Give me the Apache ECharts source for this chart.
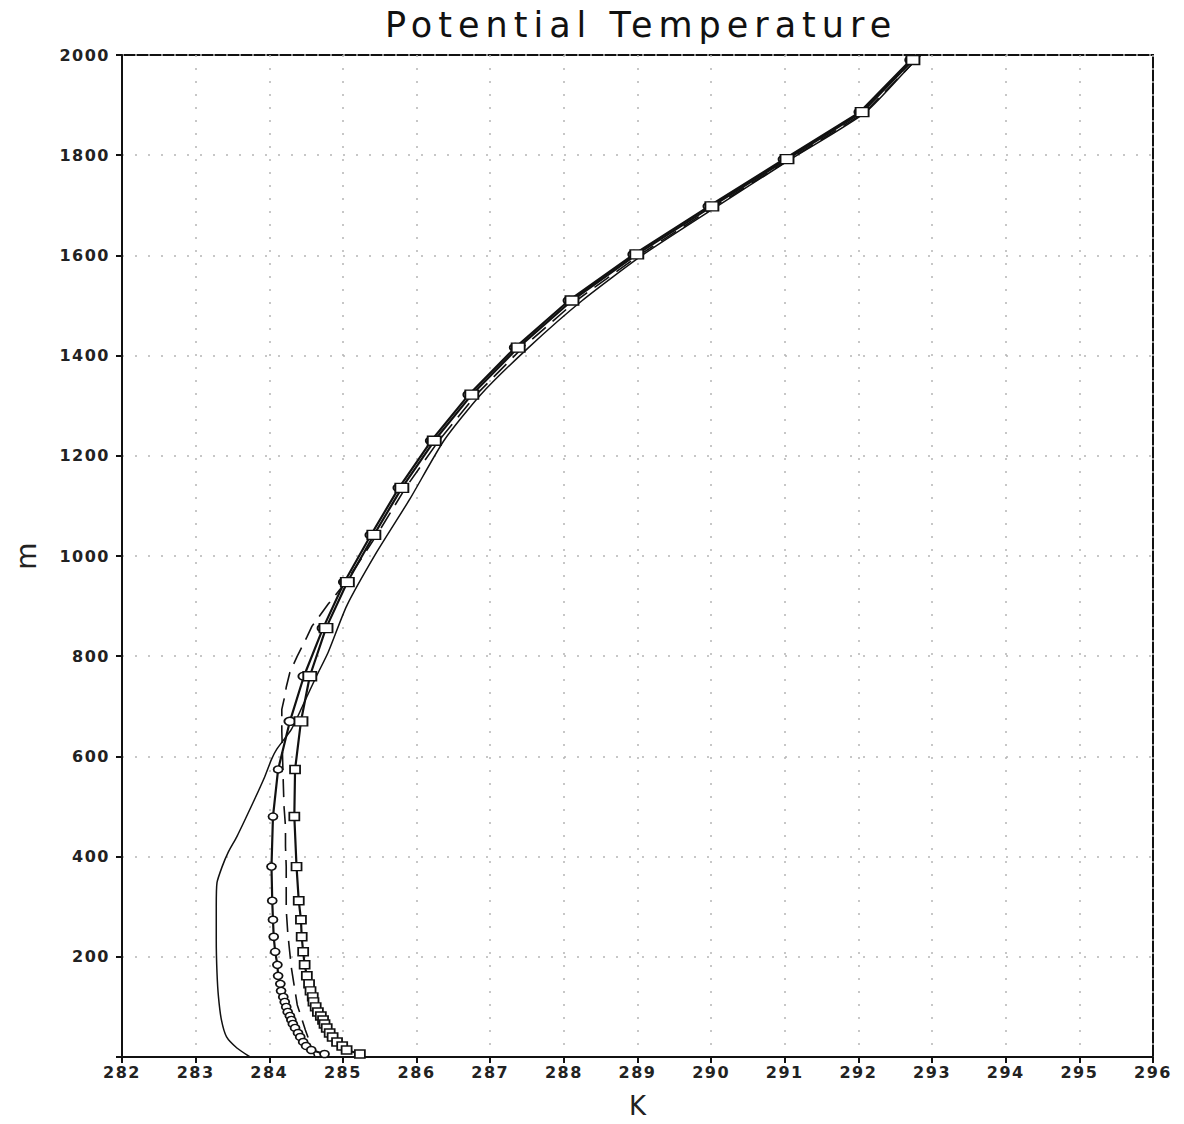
<!DOCTYPE html>
<html>
<head>
<meta charset="utf-8">
<script src="https://cdn.jsdelivr.net/npm/echarts@6/dist/echarts.min.js"></script>
<style>
html,body{margin:0;padding:0;background:#fff;overflow:hidden;}
#chart{width:1184px;height:1124px;}
</style>
</head>
<body>
<div id="chart"></div>
<script>
// X axis ticks (K) and Y axis ticks (m)
const xTicks = [282,283,284,285,286,287,288,289,290,291,292,293,294,295,296];
const yTicks = [0,200,400,600,800,1000,1200,1400,1600,1800,2000];

// Model levels (m) for the marker series
const levelHeights = [2084,1990,1886,1792,1698,1602,1510,1416,1322,1230,1136,1042,948,856,760,670,574,480,380,312,274,240,210,184,162,146,132,120,110,100,90,82,74,66,58,48,40,30,22,14,6];

// Square-marker series (K)
const squareTheta = [293.5,292.74,292.05,291.03,290.01,288.99,288.11,287.38,286.75,286.24,285.80,285.42,285.06,284.77,284.55,284.43,284.35,284.34,284.37,284.40,284.43,284.44,284.46,284.48,284.51,284.54,284.56,284.59,284.60,284.63,284.66,284.70,284.73,284.75,284.78,284.82,284.86,284.92,284.99,285.05,285.23];

// Circle-marker series (K)
const circleTheta = [293.47,292.71,292.02,290.99,289.97,288.95,288.07,287.34,286.71,286.20,285.76,285.38,285.02,284.73,284.47,284.28,284.12,284.05,284.03,284.04,284.05,284.06,284.08,284.11,284.12,284.15,284.16,284.19,284.21,284.23,284.25,284.28,284.30,284.32,284.35,284.39,284.42,284.46,284.50,284.57,284.75];

// Dashed series
const dashHeights = [2100,1990,1886,1792,1698,1602,1510,1416,1322,1230,1136,1042,948,904,860,838,800,768,738,720,694,650,600,548,500,460,420,380,340,294,250,220,178,150,104,54,0];
const dashTheta = [293.6,292.78,292.09,291.07,290.05,289.04,288.17,287.44,286.81,286.30,285.85,285.46,285.04,284.80,284.58,284.51,284.38,284.28,284.23,284.21,284.17,284.17,284.18,284.19,284.20,284.22,284.22,284.23,284.23,284.23,284.25,284.27,284.30,284.33,284.38,284.49,284.62];

// Thin solid series (no markers)
const thinHeights = [2100,1990,1886,1792,1698,1602,1510,1416,1322,1230,1114,1008,900,808,760,700,654,614,594,560,508,440,408,380,348,300,234,168,120,74,40,18,0];
const thinTheta = [293.6,292.78,292.10,291.08,290.08,289.08,288.25,287.52,286.87,286.37,285.91,285.46,285.05,284.80,284.64,284.45,284.30,284.10,284.03,283.94,283.78,283.56,283.44,283.36,283.29,283.28,283.28,283.29,283.31,283.35,283.42,283.56,283.74];

const pair = (xs, ys) => xs.map((x, i) => [x, ys[i]]);

const chart = echarts.init(document.getElementById('chart'), null, {renderer: 'svg'});
const labelFont = {fontFamily: 'DejaVu Sans', fontSize: 16, fontWeight: 'bold', color: '#222'};
const markSize = (big, small) => (val) => val[1] > 600 ? big : small;
chart.setOption({
  animation: false,
  backgroundColor: '#fff',
  title: {
    text: 'Potential Temperature',
    left: 380, top: 2,
    textStyle: {fontFamily: 'DejaVu Sans', fontSize: 35, fontWeight: 'normal', color: '#111'}
  },
  grid: {left: 122, right: 31, top: 55, bottom: 67, outerBoundsMode: 'none', containLabel: false,
         show: true, borderColor: '#111', borderWidth: 2, backgroundColor: '#fff'},
  xAxis: {
    type: 'value', min: 282, max: 296, interval: 1,
    name: 'K', nameLocation: 'middle', nameGap: 36,
    nameTextStyle: {fontFamily: 'DejaVu Sans', fontSize: 26, color: '#222'},
    axisLine: {lineStyle: {color: '#111', width: 2}},
    axisTick: {show: true, length: 6, lineStyle: {color: '#111', width: 2}},
    axisLabel: Object.assign({margin: 7}, labelFont),
    splitLine: {show: true, lineStyle: {color: '#b5b5b5', width: 1.5, type: [2, 11]}}
  },
  yAxis: {
    type: 'value', min: 0, max: 2000, interval: 200,
    name: 'm', nameLocation: 'middle', nameGap: 82, nameRotate: 90,
    nameTextStyle: {fontFamily: 'DejaVu Sans', fontSize: 28, color: '#222'},
    axisLine: {lineStyle: {color: '#111', width: 2}},
    axisTick: {show: true, length: 6, lineStyle: {color: '#111', width: 2}},
    axisLabel: Object.assign({margin: 12, formatter: v => v === 0 ? '' : String(v)}, labelFont),
    splitLine: {show: true, lineStyle: {color: '#b5b5b5', width: 1.5, type: [2, 11]}}
  },
  series: [
    {
      name: 'thin', type: 'line', data: pair(thinTheta, thinHeights),
      showSymbol: false, symbol: 'none', smooth: 0.2, clip: true,
      lineStyle: {color: '#111', width: 1.5}
    },
    {
      name: 'dashed', type: 'line', data: pair(dashTheta, dashHeights),
      showSymbol: false, symbol: 'none', clip: true,
      lineStyle: {color: '#111', width: 1.6, type: [18, 9]}
    },
    {
      name: 'circle', type: 'line', data: pair(circleTheta, levelHeights),
      symbol: 'circle', symbolSize: markSize([11, 8], [9, 7]), clip: true,
      lineStyle: {color: '#111', width: 2.2},
      itemStyle: {color: '#fff', borderColor: '#111', borderWidth: 1.6}
    },
    {
      name: 'square', type: 'line', data: pair(squareTheta, levelHeights),
      symbol: 'rect', symbolSize: markSize([13, 9], [10, 8]), clip: true,
      lineStyle: {color: '#111', width: 2.2},
      itemStyle: {color: '#fff', borderColor: '#111', borderWidth: 1.6}
    }
  ]
});

// Widen the lettering to match the stroked plotting font of the original
function spaceText() {
  document.querySelectorAll('#chart svg text').forEach(t => {
    const s = t.textContent;
    if (s === 'Potential Temperature') t.style.letterSpacing = '6px';
    else if (/^\d+$/.test(s)) t.style.letterSpacing = '1.5px';
  });
}
chart.on('finished', spaceText);
spaceText();
</script>
</body>
</html>
